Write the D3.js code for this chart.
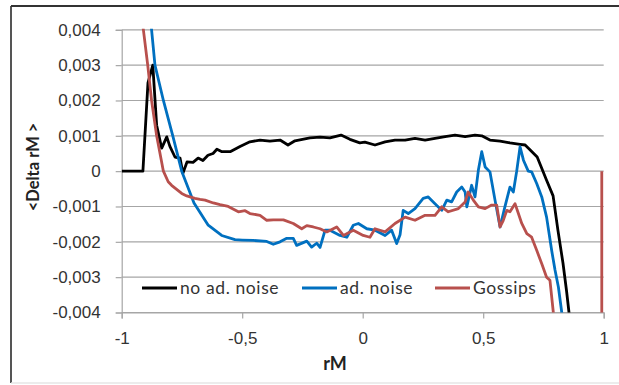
<!DOCTYPE html>
<html>
<head>
<meta charset="utf-8">
<script src="https://cdn.jsdelivr.net/npm/d3@7"></script>
<style>
  body { margin: 0; background: #fff; }
  svg { display: block; font-family: Lato, "Open Sans", sans-serif; }
</style>
</head>
<body>
<svg id="chart" width="619" height="385"></svg>
<script>
const width = 619, height = 385;

// series: [rM, <Delta rM>]
const noNoise = [
  [-1, 0], [-0.912, 0], [-0.891, 0.0025], [-0.871, 0.003], [-0.855, 0.0013], [-0.834, 0.00065],
  [-0.813, 0.00097], [-0.800, 0.0007], [-0.779, 0.0004], [-0.758, 0.00037], [-0.746, -0.00006],
  [-0.729, 0.00026], [-0.704, 0.00025], [-0.683, 0.00037], [-0.663, 0.0003], [-0.642, 0.00045],
  [-0.621, 0.0005], [-0.605, 0.00062], [-0.584, 0.00055], [-0.550, 0.00055], [-0.509, 0.0007],
  [-0.468, 0.00083], [-0.426, 0.00088], [-0.385, 0.00085], [-0.343, 0.00088], [-0.310, 0.00074],
  [-0.281, 0.00086], [-0.250, 0.0009], [-0.219, 0.00094], [-0.177, 0.00096], [-0.136, 0.00094],
  [-0.090, 0.00102], [-0.053, 0.0009], [-0.012, 0.0008], [0.009, 0.00082], [0.051, 0.00074],
  [0.093, 0.00083], [0.134, 0.00088], [0.176, 0.00088], [0.217, 0.00093], [0.259, 0.00088],
  [0.300, 0.00093], [0.342, 0.00098], [0.383, 0.00102], [0.425, 0.00098], [0.466, 0.00102],
  [0.494, 0.001], [0.528, 0.00088], [0.570, 0.00085], [0.611, 0.0008], [0.653, 0.00076],
  [0.674, 0.00074], [0.695, 0.0006], [0.724, 0.0004], [0.763, -0.00026], [0.790, -0.0007],
  [0.810, -0.00167], [0.831, -0.0026], [0.846, -0.0034], [0.856, -0.004], [0.865, -0.0046]
];

const adNoise = [
  [-0.895, 0.0054], [-0.876, 0.004], [-0.862, 0.003], [-0.827, 0.002], [-0.788, 0.001],
  [-0.751, 0], [-0.700, -0.0009], [-0.641, -0.00153], [-0.585, -0.00182], [-0.530, -0.00194],
  [-0.500, -0.00195], [-0.455, -0.00196], [-0.398, -0.00199], [-0.371, -0.00207], [-0.343, -0.002],
  [-0.315, -0.0019], [-0.288, -0.0019], [-0.274, -0.0021], [-0.232, -0.00198], [-0.212, -0.00215],
  [-0.191, -0.00204], [-0.177, -0.00216], [-0.156, -0.00167], [-0.136, -0.00167], [-0.094, -0.00182],
  [-0.066, -0.00187], [-0.039, -0.00153], [-0.018, -0.00148], [0.017, -0.00163], [0.051, -0.00167],
  [0.093, -0.00182], [0.120, -0.00167], [0.141, -0.00205], [0.155, -0.0018], [0.168, -0.00111],
  [0.189, -0.0012], [0.217, -0.00106], [0.251, -0.00077], [0.272, -0.00073], [0.300, -0.00092],
  [0.328, -0.00111], [0.349, -0.00082], [0.369, -0.00087], [0.390, -0.00059], [0.411, -0.00045],
  [0.425, -0.00059], [0.432, -0.00101], [0.452, -0.0004], [0.466, -0.00073], [0.480, 0.00003],
  [0.494, 0.00055], [0.508, 0.00012], [0.528, -0.00002], [0.549, -0.00082], [0.570, -0.00158],
  [0.590, -0.00101], [0.611, -0.00045], [0.625, -0.00059], [0.639, 0], [0.653, 0.00069],
  [0.667, 0.00031], [0.687, 0], [0.701, -0.00002], [0.722, -0.00035], [0.743, -0.00073],
  [0.763, -0.0013], [0.784, -0.00224], [0.798, -0.0028], [0.812, -0.00328], [0.826, -0.004],
  [0.835, -0.0046]
];

const gossips = [
  [-0.930, 0.0051], [-0.910, 0.004], [-0.892, 0.003], [-0.876, 0.002], [-0.855, 0.001],
  [-0.827, 0], [-0.807, -0.0003], [-0.793, -0.0004], [-0.751, -0.00063], [-0.730, -0.0007],
  [-0.696, -0.00077], [-0.675, -0.0008], [-0.654, -0.00082], [-0.620, -0.0009], [-0.592, -0.00095],
  [-0.558, -0.001], [-0.516, -0.00115], [-0.488, -0.00112], [-0.468, -0.0012], [-0.426, -0.00125],
  [-0.398, -0.00139], [-0.371, -0.00138], [-0.329, -0.00138], [-0.288, -0.00148], [-0.253, -0.00163],
  [-0.232, -0.00154], [-0.205, -0.00158], [-0.177, -0.00163], [-0.149, -0.00172], [-0.108, -0.00158],
  [-0.080, -0.00182], [-0.039, -0.00167], [0.002, -0.00182], [0.030, -0.00187], [0.051, -0.00163],
  [0.093, -0.00172], [0.134, -0.00148], [0.176, -0.0013], [0.217, -0.00139], [0.259, -0.00125],
  [0.300, -0.00125], [0.328, -0.00101], [0.355, -0.00115], [0.397, -0.00106], [0.425, -0.00087],
  [0.438, -0.00059], [0.459, -0.00082], [0.480, -0.00101], [0.508, -0.00106], [0.535, -0.00096],
  [0.556, -0.00096], [0.570, -0.00158], [0.583, -0.0014], [0.598, -0.00111], [0.611, -0.00115],
  [0.632, -0.00092], [0.646, -0.0012], [0.660, -0.00148], [0.681, -0.00177], [0.701, -0.00187],
  [0.722, -0.00224], [0.743, -0.00262], [0.763, -0.003], [0.777, -0.00309], [0.791, -0.004],
  [0.800, -0.0046], [0.992, -0.0046], [0.992, 0]
];

const seriesNames = ["no ad. noise", "ad. noise", "Gossips"];
const seriesColors = ["#000000", "#0070c0", "#b8504d"];
const xTicks = [-1, -0.5, 0, 0.5, 1];
const yTicks = [-0.004, -0.003, -0.002, -0.001, 0, 0.001, 0.002, 0.003, 0.004];

const locale = d3.formatLocale({ decimal: ",", thousands: ".", grouping: [3], currency: ["", ""], minus: "-" });
const fmtY = d => d === 0 ? "0" : locale.format(".3f")(d);
const fmtX = d => locale.format("~g")(d);

const plotLeft = 121.7, plotRight = 603.7, plotTop = 29.8, plotBottom = 312.5;
const x = d3.scaleLinear().domain([-1, 1]).range([plotLeft, plotRight]);
const y = d3.scaleLinear().domain([-0.004, 0.004]).range([plotBottom, plotTop]);

const svg = d3.select("#chart");

// chart frame
svg.append("line").attr("x1", 11).attr("x2", 11).attr("y1", 6).attr("y2", 383)
  .attr("stroke", "#555").attr("stroke-width", 2);
svg.append("line").attr("x1", 11).attr("x2", width).attr("y1", 6).attr("y2", 6)
  .attr("stroke", "#333").attr("stroke-width", 2);
svg.append("line").attr("x1", 11).attr("x2", width).attr("y1", 383).attr("y2", 383)
  .attr("stroke", "#e6e6e6").attr("stroke-width", 1.5);

// gridlines
svg.append("g")
  .selectAll("line")
  .data(yTicks)
  .join("line")
  .attr("x1", plotLeft).attr("x2", plotRight)
  .attr("y1", d => y(d)).attr("y2", d => y(d))
  .attr("stroke", "#a6a6a6").attr("stroke-width", 1.2);

// y axis
const yAxis = svg.append("g")
  .attr("transform", `translate(${plotLeft},0)`)
  .call(d3.axisLeft(y).tickValues(yTicks).tickFormat(fmtY).tickSize(6).tickPadding(15));
yAxis.select(".domain").attr("stroke", "#a6a6a6").attr("stroke-width", 1.2);
yAxis.selectAll(".tick line").attr("stroke", "#a6a6a6").attr("stroke-width", 1.2);
yAxis.selectAll("text").attr("fill", "#333").style("font-size", "17px");

// x axis
const xAxis = svg.append("g")
  .attr("transform", `translate(0,${plotBottom})`)
  .call(d3.axisBottom(x).tickValues(xTicks).tickFormat(fmtX).tickSize(6).tickPadding(13));
xAxis.select(".domain").attr("stroke", "#a6a6a6").attr("stroke-width", 1.2);
xAxis.selectAll(".tick line").attr("stroke", "#a6a6a6").attr("stroke-width", 1.2);
xAxis.selectAll("text").attr("fill", "#333").style("font-size", "17px");

// axis titles
svg.append("text")
  .attr("x", 335).attr("y", 370)
  .attr("text-anchor", "middle")
  .attr("font-weight", "bold").attr("font-size", 18).attr("fill", "#222")
  .text("rM");
svg.append("text")
  .attr("transform", "translate(39,167) rotate(-90)")
  .attr("text-anchor", "middle")
  .attr("font-weight", "bold").attr("font-size", 16.5).attr("fill", "#222")
  .text("<Delta rM >");

// lines
svg.append("clipPath").attr("id", "plot-clip")
  .append("rect").attr("x", plotLeft).attr("y", plotTop - 1)
  .attr("width", plotRight - plotLeft + 2).attr("height", plotBottom - plotTop + 1);

const line = d3.line().x(d => x(d[0])).y(d => y(d[1]));
svg.append("g")
  .attr("clip-path", "url(#plot-clip)")
  .selectAll("path")
  .data([noNoise, adNoise, gossips])
  .join("path")
  .attr("d", line)
  .attr("fill", "none")
  .attr("stroke", (d, i) => seriesColors[i])
  .attr("stroke-width", 2.8)
  .attr("stroke-linejoin", "round");

// legend
const legendX = [142, 302, 435];
const legend = svg.append("g")
  .selectAll("g")
  .data(seriesNames)
  .join("g")
  .attr("transform", (d, i) => `translate(${legendX[i]},288)`);
legend.append("line")
  .attr("x1", 0).attr("x2", 35)
  .attr("stroke", (d, i) => seriesColors[i])
  .attr("stroke-width", 2.8);
legend.append("text")
  .attr("x", 38).attr("y", 6)
  .attr("font-size", 17.5).attr("letter-spacing", 0.6).attr("fill", "#333")
  .text(d => d);
</script>
</body>
</html>
